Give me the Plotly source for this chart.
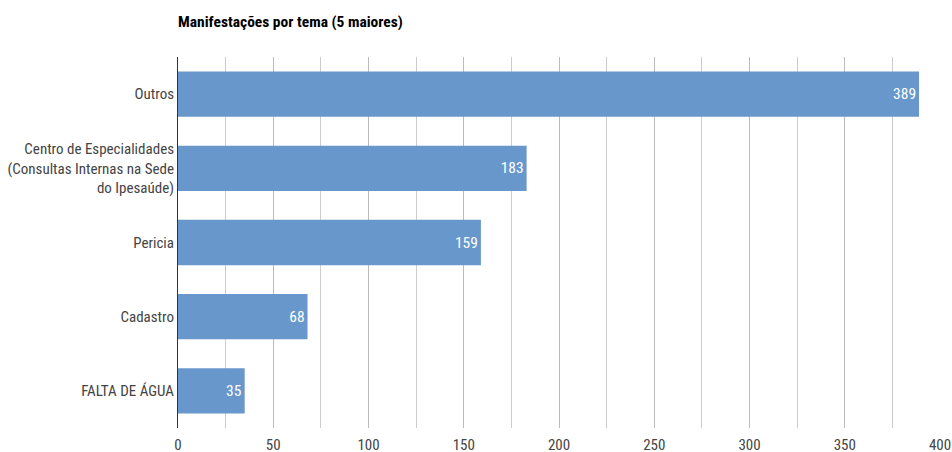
import plotly.graph_objects as go

categories = ["Outros",
              "Centro de Especialidades<br>(Consultas Internas na Sede<br>do Ipesaúde)",
              "Pericia", "Cadastro", "FALTA DE ÁGUA"]
values = [389, 183, 159, 68, 35]
x_ticks = [0, 50, 100, 150, 200, 250, 300, 350, 400]

FONT = "Liberation Sans Narrow, Roboto Condensed, Roboto, Arial"

fig = go.Figure(go.Bar(
    y=categories, x=values, orientation="h",
    marker=dict(color="#6897cc", line=dict(width=0)),
    width=0.61,
    text=[str(v) for v in values], textposition="inside",
    insidetextanchor="end", textangle=0,
    textfont=dict(color="white", size=15.5, family=FONT),
))

fig.update_layout(
    width=952, height=452,
    margin=dict(l=178, r=12, t=57, b=24),
    paper_bgcolor="white", plot_bgcolor="white",
    title=dict(text="<b>Manifestações por tema (5 maiores)</b>", xref="paper", x=0, xanchor="left",
               yref="container", y=1-22/452, yanchor="middle",
               font=dict(size=15.5, color="#000", family=FONT)),
    showlegend=False,
    font=dict(family=FONT, size=15, color="#444"),
)
fig.update_xaxes(range=[0, 400], tickvals=x_ticks, showgrid=True, gridcolor="#bbbbbb", gridwidth=1,
                 minor=dict(dtick=25, showgrid=True, gridcolor="#cccccc", gridwidth=1),
                 zeroline=False, showline=False, ticks="outside", ticklen=3, tickcolor="rgba(0,0,0,0)",
                 automargin=False, tickfont=dict(size=15, color="#444"))
fig.update_yaxes(autorange=False, range=[4.5, -0.5], showline=True, linecolor="#333", linewidth=1,
                 ticks="", automargin=False, tickfont=dict(size=15, color="#444"),
                 showgrid=False)

fig.write_html("out.html", config={"displayModeBar": False},
               post_script="document.body.style.margin='0';")
